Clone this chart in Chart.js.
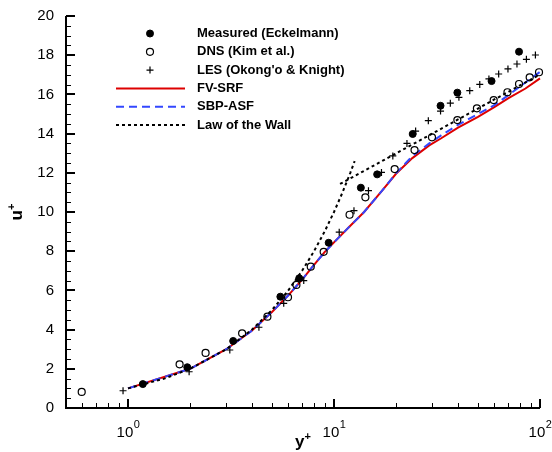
<!DOCTYPE html>
<html>
<head>
<meta charset="utf-8">
<script src="https://cdn.jsdelivr.net/npm/chart.js@4/dist/chart.umd.min.js"></script>
<style>
  html, body { margin: 0; padding: 0; background: #fff; }
  canvas { display: block; }
</style>
</head>
<body>
<canvas id="chart" width="552" height="452"></canvas>
<script>
// values (y+ on a log axis, u+ linear)
const measuredX = [1.18, 1.94, 3.24, 5.49, 6.78, 9.42, 13.5, 16.2, 24.1, 32.9, 39.7, 58.2, 79.1];
const measuredU = [1.22, 2.08, 3.42, 5.68, 6.62, 8.43, 11.24, 11.92, 13.98, 15.42, 16.09, 16.68, 18.18];

const dnsX = [0.596, 1.78, 2.38, 3.58, 4.75, 5.98, 6.57, 7.71, 8.91, 11.9, 14.2, 19.7, 24.6, 29.9, 39.7, 49.4, 59.6, 69.5, 79.1, 89.1, 98.9];
const dnsU = [0.82, 2.23, 2.81, 3.81, 4.66, 5.65, 6.28, 7.21, 7.97, 9.86, 10.75, 12.19, 13.16, 13.81, 14.69, 15.29, 15.71, 16.11, 16.53, 16.87, 17.13];

const lesX = [0.946, 1.98, 3.12, 4.32, 5.70, 7.13, 10.6, 12.5, 14.7, 17.0, 19.3, 22.6, 24.9, 28.7, 32.9, 36.7, 40.4, 45.6, 51.0, 56.5, 63.0, 69.9, 77.3, 85.9, 95.0];
const lesU = [0.88, 1.85, 2.96, 4.12, 5.34, 6.50, 8.97, 10.07, 11.09, 12.02, 12.86, 13.5, 14.13, 14.66, 15.15, 15.55, 15.85, 16.19, 16.51, 16.79, 17.04, 17.30, 17.55, 17.79, 18.01];

const fvX = [1, 2, 3, 4, 5, 6, 7, 8, 9, 10, 12, 14, 17, 20, 24, 29, 33, 40, 50, 60, 70, 85, 100];
const fvU = [1.0, 2.0, 3.0, 3.95, 4.9, 5.75, 6.55, 7.3, 7.95, 8.45, 9.3, 10.0, 11.05, 11.95, 12.75, 13.4, 13.75, 14.3, 14.85, 15.35, 15.8, 16.3, 16.82];

const sbpX = [1, 2, 3, 4, 5, 6, 7, 8, 9, 10, 12, 14, 17, 20, 24, 29, 33, 40, 50, 60, 70, 80, 90, 100];
const sbpU = [1.0, 2.0, 3.0, 3.95, 4.9, 5.75, 6.55, 7.3, 7.95, 8.45, 9.3, 10.0, 11.05, 11.97, 12.85, 13.5, 13.9, 14.45, 15.0, 15.45, 15.95, 16.4, 16.8, 17.15];

// law of the wall: viscous sublayer part and log-law part
const wallInnerX = [1, 1.5, 2, 3, 4, 5, 6, 7, 8, 9, 10, 11, 12, 12.6];
const wallInnerU = [1, 1.5, 2, 3, 4, 5, 6, 7, 8, 9, 10, 11, 12, 12.6];
const wallLogX = [10.7, 15, 20, 30, 40, 50, 60, 70, 80, 90, 100];
const wallLogU = [11.43, 12.27, 12.99, 14.0, 14.72, 15.28, 15.74, 16.12, 16.46, 16.75, 17.01];

const yTicks = [0, 2, 4, 6, 8, 10, 12, 14, 16, 18, 20];
const xTicks = [1, 10, 100];
const xTickExp = ["0", "1", "2"];

const FONT = '"Liberation Sans", Arial, Helvetica, sans-serif';
const RED = "#dd0000";
const BLUE = "#3347ff";

const pts = (xs, ys) => xs.map((x, i) => ({ x, y: ys[i] }));

// ---------------------------------------------------------------------------
// axes drawn tecplot-style: left/bottom lines, inward ticks, 10^n labels
// ---------------------------------------------------------------------------
const framePlugin = {
  id: "frame",
  afterDraw(chart) {
    const { ctx, chartArea: a, scales: { x, y } } = chart;
    ctx.save();
    ctx.strokeStyle = "#000";
    ctx.lineCap = "butt";

    // minor ticks
    ctx.lineWidth = 1;
    ctx.beginPath();
    for (let v = 0.5; v < 20; v += 0.5) {
      if (v % 2 === 0) continue;
      const py = Math.round(y.getPixelForValue(v)) + 0.5;
      ctx.moveTo(a.left, py); ctx.lineTo(a.left + 5, py);
    }
    for (const dec of [0.1, 1, 10]) {
      for (let m = 2; m <= 9; m++) {
        const v = m * dec;
        if (v < x.min || v > x.max) continue;
        const px = Math.round(x.getPixelForValue(v)) + 0.5;
        ctx.moveTo(px, a.bottom); ctx.lineTo(px, a.bottom - 5);
      }
    }
    ctx.stroke();

    // major ticks
    ctx.lineWidth = 2;
    ctx.beginPath();
    for (const v of yTicks) {
      const py = Math.round(y.getPixelForValue(v));
      ctx.moveTo(a.left, py); ctx.lineTo(a.left + 9, py);
    }
    for (const v of xTicks) {
      const px = Math.round(x.getPixelForValue(v));
      ctx.moveTo(px, a.bottom); ctx.lineTo(px, a.bottom - 9);
    }
    ctx.stroke();

    // axis lines
    ctx.beginPath();
    ctx.moveTo(a.left, a.top);
    ctx.lineTo(a.left, a.bottom);
    ctx.lineTo(a.right, a.bottom);
    ctx.stroke();

    // y tick labels
    ctx.fillStyle = "#000";
    ctx.font = "15px " + FONT;
    ctx.textAlign = "right";
    ctx.textBaseline = "middle";
    for (const v of yTicks) {
      ctx.fillText(String(v), a.left - 12, y.getPixelForValue(v));
    }

    // x tick labels 10^n
    ctx.textAlign = "left";
    ctx.textBaseline = "alphabetic";
    xTicks.forEach((v, i) => {
      ctx.font = "15px " + FONT;
      const wBase = ctx.measureText("10").width;
      ctx.font = "11px " + FONT;
      const wExp = ctx.measureText(xTickExp[i]).width;
      const px = x.getPixelForValue(v) - (wBase + wExp) / 2;
      ctx.font = "15px " + FONT;
      ctx.fillText("10", px, 437);
      ctx.font = "11px " + FONT;
      ctx.fillText(xTickExp[i], px + wBase + 0.5, 428);
    });

    // x title y+
    ctx.font = "bold 17px " + FONT;
    const wy = ctx.measureText("y").width;
    ctx.font = "bold 11px " + FONT;
    const wp = ctx.measureText("+").width;
    const tx = (a.left + a.right) / 2 - (wy + wp) / 2;
    ctx.font = "bold 17px " + FONT;
    ctx.fillText("y", tx, 447);
    ctx.font = "bold 11px " + FONT;
    ctx.fillText("+", tx + wy, 440);

    // y title u+
    ctx.save();
    ctx.translate(22, (a.top + a.bottom) / 2);
    ctx.rotate(-Math.PI / 2);
    ctx.font = "bold 17px " + FONT;
    const wu = ctx.measureText("u").width;
    ctx.fillText("u", -(wu + wp) / 2, 0);
    ctx.font = "bold 11px " + FONT;
    ctx.fillText("+", -(wu + wp) / 2 + wu, -7);
    ctx.restore();

    ctx.restore();
  },
};

// ---------------------------------------------------------------------------
// legend: symbol column + bold labels, top-left inside the plot
// ---------------------------------------------------------------------------
const legendPlugin = {
  id: "wallLegend",
  afterDraw(chart) {
    const ctx = chart.ctx;
    const rows = chart.data.datasets.filter((d) => !d.noLegend);
    ctx.save();
    ctx.font = "bold 13px " + FONT;
    ctx.textBaseline = "middle";
    ctx.textAlign = "left";
    rows.forEach((d, i) => {
      const cy = 33.5 + i * 18.3;
      ctx.strokeStyle = d.borderColor;
      ctx.fillStyle = "#000";
      if (d.showLine) {
        ctx.lineWidth = d.borderWidth;
        ctx.setLineDash(d.borderDash || []);
        ctx.beginPath();
        ctx.moveTo(116, cy); ctx.lineTo(185, cy);
        ctx.stroke();
        ctx.setLineDash([]);
      } else {
        ctx.lineWidth = d.borderWidth;
        ctx.beginPath();
        if (d.pointStyle === "cross") {
          ctx.moveTo(150 - d.pointRadius, cy); ctx.lineTo(150 + d.pointRadius, cy);
          ctx.moveTo(150, cy - d.pointRadius); ctx.lineTo(150, cy + d.pointRadius);
          ctx.stroke();
        } else {
          ctx.arc(150, cy, d.pointRadius, 0, Math.PI * 2);
          if (d.backgroundColor !== "rgba(0,0,0,0)") ctx.fill();
          ctx.stroke();
        }
      }
      ctx.fillStyle = "#000";
      ctx.fillText(d.label, 197, cy);
    });
    ctx.restore();
  },
};

// order: higher values are painted first, so red sits under the blue dashes,
// the law-of-the-wall dots sit on both and the symbols are on top
new Chart(document.getElementById("chart"), {
  type: "scatter",
  data: {
    datasets: [
      {
        label: "Measured (Eckelmann)",
        data: pts(measuredX, measuredU),
        pointStyle: "circle", pointRadius: 3.5,
        backgroundColor: "#000", borderColor: "#000", borderWidth: 1,
        order: 0,
      },
      {
        label: "DNS (Kim et al.)",
        data: pts(dnsX, dnsU),
        pointStyle: "circle", pointRadius: 3.5,
        backgroundColor: "rgba(0,0,0,0)", borderColor: "#000", borderWidth: 1.2,
        order: 0,
      },
      {
        label: "LES (Okong'o & Knight)",
        data: pts(lesX, lesU),
        pointStyle: "cross", pointRadius: 3.5,
        backgroundColor: "#000", borderColor: "#000", borderWidth: 1.2,
        order: 0,
      },
      {
        label: "FV-SRF",
        data: pts(fvX, fvU),
        showLine: true, pointRadius: 0,
        borderColor: RED, borderWidth: 2,
        order: 3,
      },
      {
        label: "SBP-ASF",
        data: pts(sbpX, sbpU),
        showLine: true, pointRadius: 0,
        borderColor: BLUE, borderWidth: 2, borderDash: [8, 5],
        order: 2,
      },
      {
        label: "Law of the Wall",
        data: pts(wallInnerX, wallInnerU),
        showLine: true, pointRadius: 0,
        borderColor: "#000", borderWidth: 2, borderDash: [3, 3],
        order: 1,
      },
      {
        label: "Law of the Wall (log)",
        noLegend: true,
        data: pts(wallLogX, wallLogU),
        showLine: true, pointRadius: 0,
        borderColor: "#000", borderWidth: 2, borderDash: [3, 3],
        order: 1,
      },
    ],
  },
  options: {
    responsive: false,
    animation: false,
    events: [],
    clip: false,
    layout: { padding: { left: 66, right: 12, top: 16, bottom: 44 } },
    plugins: { legend: { display: false }, tooltip: { enabled: false } },
    scales: {
      x: { type: "logarithmic", min: 0.5, max: 100, display: false },
      y: { type: "linear", min: 0, max: 20, display: false },
    },
  },
  plugins: [framePlugin, legendPlugin],
});
</script>
</body>
</html>
